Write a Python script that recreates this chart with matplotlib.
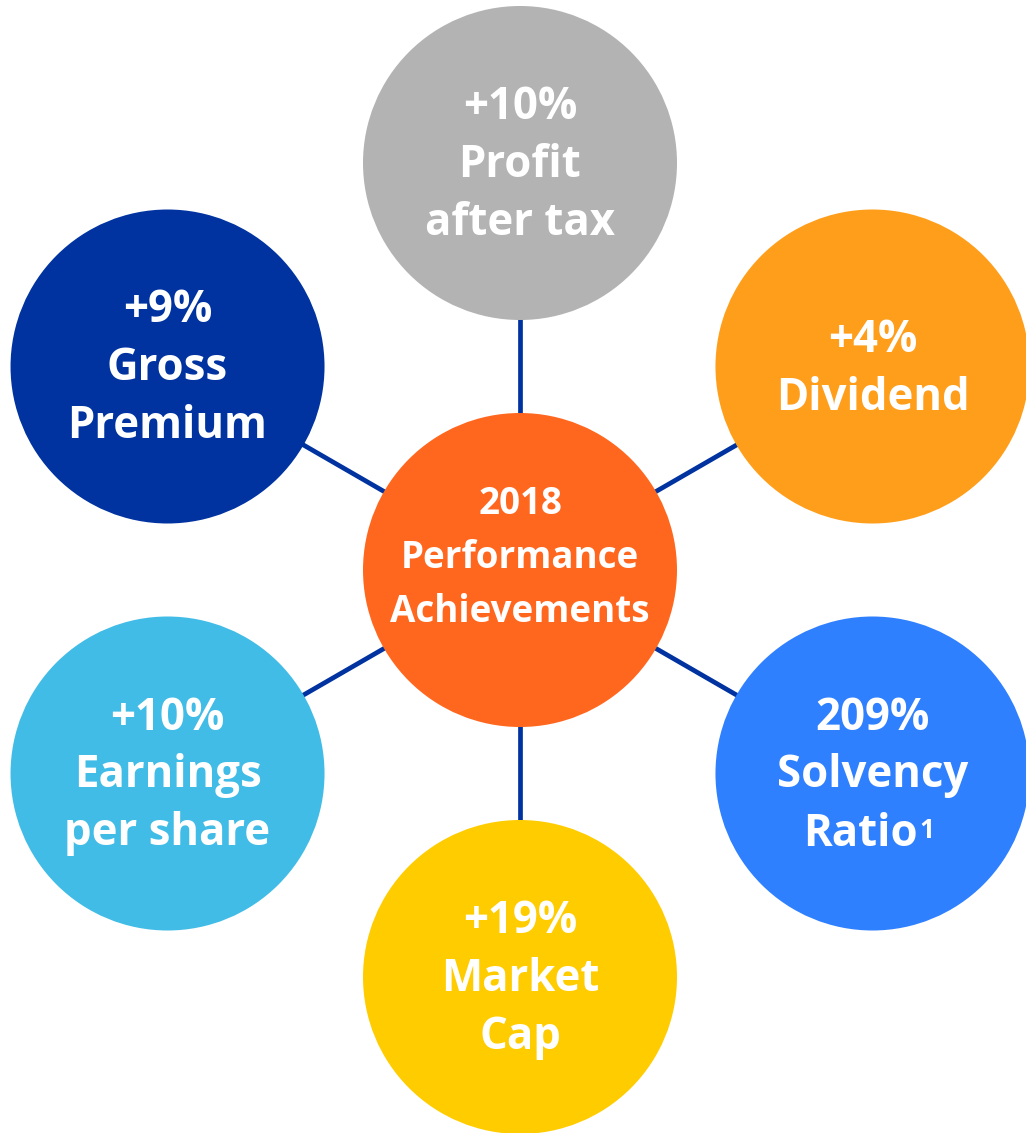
import numpy as np
import matplotlib.pyplot as plt
from matplotlib.patches import Circle

plt.rcParams['font.family'] = ['Open Sans', 'DejaVu Sans']

# hub and spokes (clockwise from top)
hub_label = ["2018", "Performance", "Achievements"]
hub_color = "#FF671F"

spoke_labels = [
    ["+10%", "Profit", "after tax"],
    ["+4%", "Dividend"],
    ["209%", "Solvency", "Ratio"],
    ["+19%", "Market", "Cap"],
    ["+10%", "Earnings", "per share"],
    ["+9%", "Gross", "Premium"],
]
spoke_colors = ["#B3B3B3", "#FF9E1B", "#2F80FF", "#FFCC00", "#41BCE6", "#0033A0"]
spoke_angles = [90, 30, -30, -90, -150, 150]
footnote = "1"

W, H = 1026, 1133
hub_xy = (520, 570)
dist = 407
rad = 157
line_color = "#0033A0"


def draw_label(ax, cx, cy, lines, step, size, offset=0):
    n = len(lines)
    for i, txt in enumerate(lines):
        base = cy + offset + (i - (n - 1) / 2) * step + 14
        ax.text(cx, base, txt, ha='center', va='baseline', color='white',
                fontsize=size, fontweight='bold')


def draw():
    fig = plt.figure(figsize=(W / 100, H / 100), dpi=100)
    ax = fig.add_axes([0, 0, 1, 1])
    ax.set_xlim(0, W)
    ax.set_ylim(H, 0)
    ax.set_aspect('equal')
    ax.axis('off')

    hx, hy = hub_xy
    centers = []
    for a in spoke_angles:
        t = np.deg2rad(a)
        centers.append((hx + dist * np.cos(t), hy - dist * np.sin(t)))

    for cx, cy in centers:
        ax.plot([hx, cx], [hy, cy], color=line_color, lw=3.4, zorder=1)

    for (cx, cy), col, lines in zip(centers, spoke_colors, spoke_labels):
        ax.add_patch(Circle((cx, cy), rad, color=col, zorder=2, lw=0))
        if lines[-1] == "Ratio":
            draw_label(ax, cx, cy, lines[:-1] + [""], 58, 31.5)
            base = cy + 58 + 14
            ax.text(cx + 45, base, lines[-1], ha='right', va='baseline',
                    color='white', fontsize=31.5, fontweight='bold', zorder=3)
            ax.text(cx + 47, base - 7, footnote, ha='left', va='baseline',
                    color='white', fontsize=19, fontweight='bold', zorder=3)
        else:
            draw_label(ax, cx, cy, lines, 58, 31.5)

    ax.add_patch(Circle(hub_xy, rad, color=hub_color, zorder=2, lw=0))
    draw_label(ax, hx, hy, hub_label, 53.5, 26.5, offset=-16)

    fig.savefig("out.png", dpi=100)
    plt.close()


if __name__ == '__main__':
    draw()
